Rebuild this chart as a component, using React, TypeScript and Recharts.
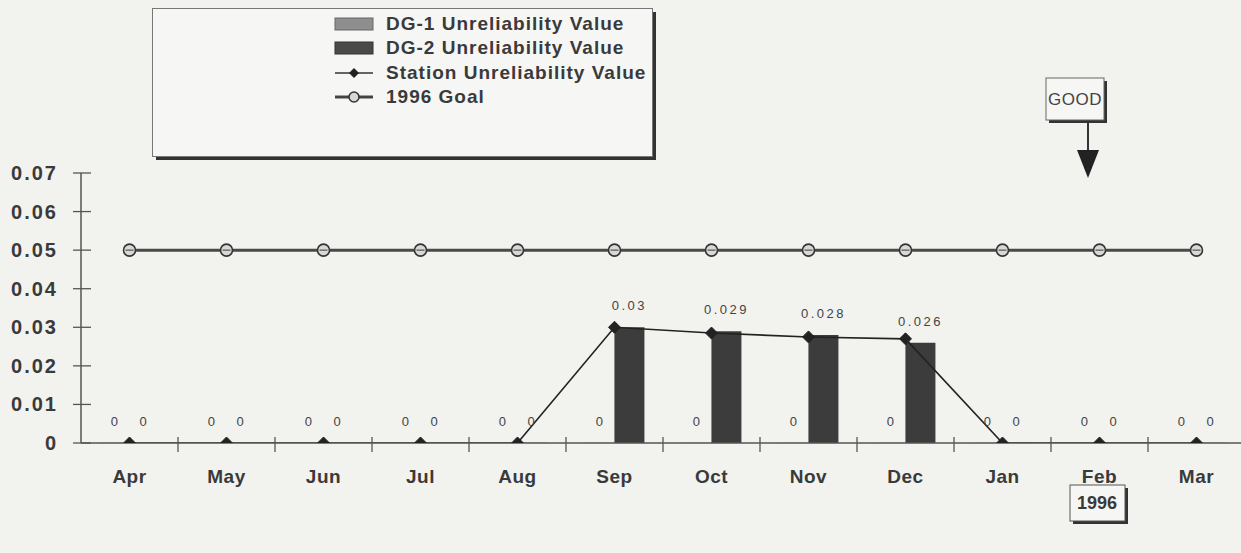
import React from 'react';
import { ComposedChart, Bar, Line, XAxis, YAxis, LabelList, Legend } from 'recharts';

const months = ['Apr', 'May', 'Jun', 'Jul', 'Aug', 'Sep', 'Oct', 'Nov', 'Dec', 'Jan', 'Feb', 'Mar'];
const dg1Values = [0, 0, 0, 0, 0, 0, 0, 0, 0, 0, 0, 0];
const dg2Values = [0, 0, 0, 0, 0, 0.03, 0.029, 0.028, 0.026, 0, 0, 0];
const stationValues = [0, 0, 0, 0, 0, 0.03, 0.0285, 0.0275, 0.027, 0, 0, 0];
const goalValues = [0.05, 0.05, 0.05, 0.05, 0.05, 0.05, 0.05, 0.05, 0.05, 0.05, 0.05, 0.05];
const yTicks = [0, 0.01, 0.02, 0.03, 0.04, 0.05, 0.06, 0.07];

const seriesNames = {
  dg1: 'DG-1 Unreliability Value',
  dg2: 'DG-2 Unreliability Value',
  station: 'Station Unreliability Value',
  goal: '1996 Goal',
};

const data = months.map((m, i) => ({
  month: m,
  dg1: dg1Values[i],
  dg2: dg2Values[i],
  station: stationValues[i],
  goal: goalValues[i],
}));

const FONT = '"Liberation Sans", Arial, sans-serif';
const TEXT = '#3a3a3a';
const BG = '#f2f2ef';

const XTick = (props: any) => {
  const { x, y, payload, index } = props;
  const half = payload && typeof payload.offset === 'number' ? payload.offset : 48.5;
  return (
    <g>
      <text x={x} y={y} dy={40} textAnchor="middle" fontFamily={FONT} fontWeight="bold" fontSize={19} letterSpacing={0.5} fill={TEXT}>
        {payload.value}
      </text>
      {index < months.length - 1 && (
        <line x1={x + half} x2={x + half} y1={y - 6} y2={y + 9} stroke="#555" strokeWidth={1.3} />
      )}
    </g>
  );
};

const YTick = (props: any) => {
  const { x, y, payload } = props;
  return (
    <g>
      <line x1={x - 8} x2={x + 10} y1={y} y2={y} stroke="#555" strokeWidth={1.3} />
      <text x={x - 23} y={y} dy={7} textAnchor="end" fontFamily={FONT} fontWeight="bold" fontSize={20} letterSpacing={2} fill={TEXT}>
        {payload.value === 0 ? '0' : String(payload.value)}
      </text>
    </g>
  );
};

const Diamond = (props: any) => {
  const { cx, cy } = props;
  if (cx == null || cy == null) return null;
  const r = 6;
  return <polygon points={`${cx},${cy - r} ${cx + r},${cy} ${cx},${cy + r} ${cx - r},${cy}`} fill="#222" stroke="#222" />;
};

const GoalDot = (props: any) => {
  const { cx, cy } = props;
  if (cx == null || cy == null) return null;
  return (
    <g>
      <circle cx={cx} cy={cy} r={6} fill="#d8d8d6" stroke="#333" strokeWidth={1.6} />
      <line x1={cx - 4} x2={cx + 4} y1={cy} y2={cy} stroke="#555" strokeWidth={1.2} />
    </g>
  );
};

const LegendBox = () => {
  const rows = [
    { key: 'dg1', y: 16 },
    { key: 'dg2', y: 40 },
    { key: 'station', y: 65 },
    { key: 'goal', y: 89 },
  ];
  const iconX = 183;
  const iconW = 38;
  return (
    <svg width={506} height={154} style={{ display: 'block' }}>
      <rect x={4} y={4} width={500} height={148} fill="#333" />
      <rect x={0.5} y={0.5} width={500} height={148} fill="#f6f6f4" stroke="#777" strokeWidth={1} />
      {rows.map((r) => (
        <g key={r.key}>
          {r.key === 'dg1' && <rect x={iconX} y={r.y - 6} width={iconW} height={12} fill="#8e8e8e" stroke="#666" />}
          {r.key === 'dg2' && <rect x={iconX} y={r.y - 6} width={iconW} height={12} fill="#4a4a4a" stroke="#333" />}
          {r.key === 'station' && (
            <g>
              <line x1={iconX} x2={iconX + iconW} y1={r.y} y2={r.y} stroke="#333" strokeWidth={1.5} />
              <polygon
                points={`${iconX + iconW / 2},${r.y - 5} ${iconX + iconW / 2 + 5},${r.y} ${iconX + iconW / 2},${r.y + 5} ${iconX + iconW / 2 - 5},${r.y}`}
                fill="#222"
              />
            </g>
          )}
          {r.key === 'goal' && (
            <g>
              <line x1={iconX} x2={iconX + iconW} y1={r.y} y2={r.y} stroke="#444" strokeWidth={3} />
              <circle cx={iconX + iconW / 2} cy={r.y} r={5} fill="#d8d8d6" stroke="#333" strokeWidth={1.5} />
            </g>
          )}
          <text x={iconX + iconW + 13} y={r.y} dy={6} fontFamily={FONT} fontWeight="bold" fontSize={19} letterSpacing={1} fill={TEXT}>
            {(seriesNames as any)[r.key]}
          </text>
        </g>
      ))}
    </svg>
  );
};

const fmt = (v: any) => (v === 0 ? '0' : String(v));

export default function App() {
  return (
    <div style={{ position: 'absolute', left: 0, top: 0, width: 1241, height: 553, overflow: 'hidden', background: BG }}>
      <ComposedChart
        width={1246}
        height={553}
        data={data}
        margin={{ top: 173, right: 1, bottom: 0, left: 0 }}
        barCategoryGap="19%"
        barGap={0}
      >
        <XAxis
          dataKey="month"
          height={110}
          axisLine={{ stroke: '#555', strokeWidth: 1.5 }}
          tickLine={false}
          tickSize={0}
          tickMargin={0}
          interval={0}
          tick={<XTick />}
        />
        <YAxis
          width={81}
          domain={[0, 0.07]}
          ticks={yTicks}
          allowDataOverflow
          axisLine={{ stroke: '#555', strokeWidth: 1.5 }}
          tickLine={false}
          tickSize={0}
          tickMargin={0}
          tick={<YTick />}
        />
        <Legend
          layout="horizontal"
          verticalAlign="middle"
          align="center"
          wrapperStyle={{ position: 'absolute', left: 152, top: 8, width: 506, height: 154 }}
          content={() => <LegendBox />}
        />
        <Bar dataKey="dg1" name={seriesNames.dg1} fill="#8e8e8e" minPointSize={0.2} isAnimationActive={false}>
          <LabelList dataKey="dg1" position="top" offset={17} formatter={fmt} fontFamily={FONT} fontSize={13} fill="#444" />
        </Bar>
        <Bar dataKey="dg2" name={seriesNames.dg2} fill="#3c3c3c" minPointSize={0.2} isAnimationActive={false}>
          <LabelList
            dataKey="dg2"
            position="top"
            offset={17}
            formatter={fmt}
            fontFamily={FONT}
            fontSize={13}
            letterSpacing={2.5}
            fill="#444"
          />
        </Bar>
        <Line
          dataKey="goal"
          name={seriesNames.goal}
          stroke="#4a4a4a"
          strokeWidth={3}
          dot={<GoalDot />}
          activeDot={false}
          isAnimationActive={false}
        />
        <Line
          dataKey="station"
          name={seriesNames.station}
          stroke="#222"
          strokeWidth={1.6}
          dot={<Diamond />}
          activeDot={false}
          isAnimationActive={false}
        />
      </ComposedChart>
      <svg width={1241} height={553} style={{ position: 'absolute', left: 0, top: 0, pointerEvents: 'none' }}>
        <g>
          <rect x={1049} y={81} width={58} height={42} fill="#333" />
          <rect x={1046} y={78} width={58} height={42} fill="#f6f6f4" stroke="#666" strokeWidth={1} />
          <text x={1075} y={99} dy={6} textAnchor="middle" fontFamily={FONT} fontSize={17} letterSpacing={0.5} fill="#444">
            GOOD
          </text>
          <line x1={1088} x2={1088} y1={123} y2={150} stroke="#333" strokeWidth={2} />
          <polygon points="1077,150 1099,150 1088,178" fill="#222" />
        </g>
        <g>
          <rect x={1073} y={488} width={55} height={36} fill="#333" />
          <rect x={1070} y={485} width={55} height={36} fill="#f6f6f4" stroke="#555" strokeWidth={1} />
          <text x={1097} y={503} dy={6} textAnchor="middle" fontFamily={FONT} fontWeight="bold" fontSize={18} fill={TEXT}>
            1996
          </text>
        </g>
      </svg>
    </div>
  );
}
